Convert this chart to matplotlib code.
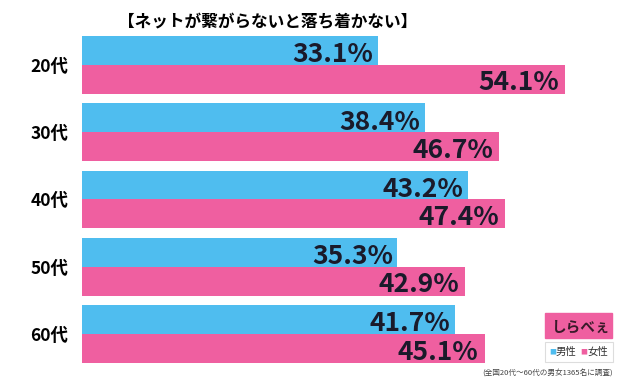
import matplotlib.pyplot as plt
from matplotlib.patches import Rectangle

plt.rcParams['font.family'] = ['Noto Sans CJK JP', 'DejaVu Sans']

ages = ['20代', '30代', '40代', '50代', '60代']
male = [33.1, 38.4, 43.2, 35.3, 41.7]
female = [54.1, 46.7, 47.4, 42.9, 45.1]

blue = '#4fbdef'
pink = '#ef5fa0'

fig = plt.figure(figsize=(6.28, 3.9), dpi=100)
ax = fig.add_axes([82 / 628, 27 / 390, 536 / 628, 327 / 390])

h = 0.43
ypos = list(range(len(ages)))
ax.barh([y - h / 2 for y in ypos], male, height=h, color=blue)
ax.barh([y + h / 2 for y in ypos], female, height=h, color=pink)

for y, m, f in zip(ypos, male, female):
    ax.text(m - 0.5, y - 0.04, f'{m}%', ha='right', va='baseline',
            fontsize=19, fontweight='bold', color='#1a1a2a')
    ax.text(f - 0.7, y + h - 0.05, f'{f}%', ha='right', va='baseline',
            fontsize=19, fontweight='bold', color='#1a1a2a')

ax.set_xlim(0, 60)
ax.set_ylim(len(ages) - 1 + h, -h)
ax.set_yticks(ypos)
ax.set_yticklabels(ages, fontsize=12.5, fontweight='bold')
ax.tick_params(axis='y', length=0, pad=10)
ax.set_xticks([])
for s in ax.spines.values():
    s.set_visible(False)

fig.text(268 / 628, 1 - 22 / 390, '【ネットが繋がらないと落ち着かない】',
         ha='center', va='center', fontsize=12, fontweight='bold')

# logo
fig.patches.append(Rectangle((545 / 628, 1 - 338 / 390), 67 / 628, 25 / 390,
                             transform=fig.transFigure, color=pink))
fig.text(581 / 628, 1 - 327 / 390, 'しらべぇ', ha='center', va='center',
         fontsize=10.5, fontweight='bold', color='#3a1a2a')

# legend box
fig.patches.append(Rectangle((545 / 628, 1 - 362 / 390), 68 / 628, 20 / 390,
                             transform=fig.transFigure, facecolor='white',
                             edgecolor='#dddddd', linewidth=0.8))
fig.text(549 / 628, 1 - 352 / 390, '■', color=blue, fontsize=5, va='center')
fig.text(556 / 628, 1 - 352 / 390, '男性', color='#333333', fontsize=7.5, va='center')
fig.text(580 / 628, 1 - 352 / 390, '■', color=pink, fontsize=5, va='center')
fig.text(587 / 628, 1 - 352 / 390, '女性', color='#333333', fontsize=7.5, va='center')

fig.text(613 / 628, 1 - 373 / 390, '(全国20代～60代の男女1365名に調査)',
         ha='right', va='center', fontsize=5.5, color='#444444')

fig.savefig('out.png', dpi=100)
